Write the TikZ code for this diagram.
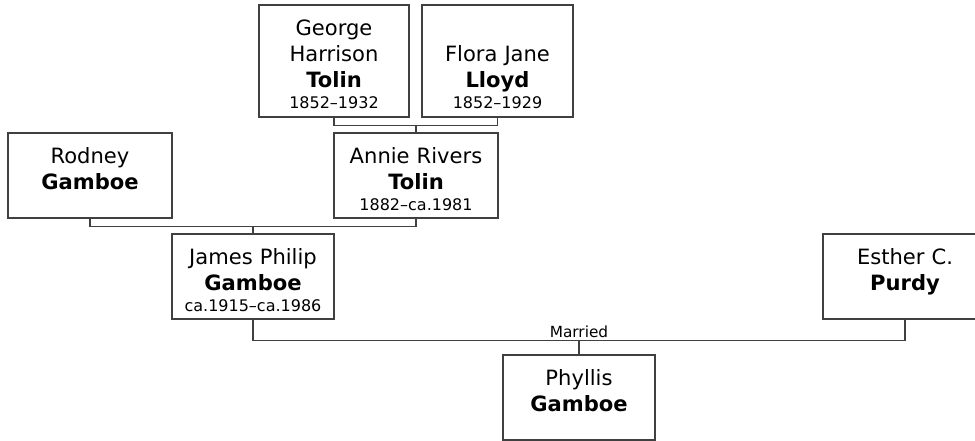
\documentclass[tikz,border=0pt]{standalone}
\usepackage{fontspec}
\setmainfont{DejaVu Sans}
\newcommand{\yrs}[1]{\\[-4pt]{\fontsize{12}{14}\selectfont #1}}
\begin{document}
\begin{tikzpicture}[x=0.75pt, y=-0.75pt,
  every node/.style={font=\fontsize{15.8}{19.5}\selectfont},
  person/.style={draw=black!75, line width=1.1pt, fill=white, align=center, inner xsep=0pt, inner ysep=7pt, text height=16pt},
  tall/.style={person, text depth=54pt},
  short/.style={person, text depth=33.75pt},
  link/.style={draw=black!75, line width=1.1pt}]
\useasboundingbox (0,0) rectangle (975,441);
% grandparents
\node[tall, text width=112.5pt] (george) at (334,61) {George\\Harrison\\\textbf{Tolin}\yrs{1852–1932}};
\node[tall, text width=113.25pt, text height=35.5pt, text depth=34.5pt] (flora) at (497.5,61) {Flora Jane\\\textbf{Lloyd}\yrs{1852–1929}};
% parents
\node[short, text width=123pt] (rodney) at (90,175.5) {Rodney\\\textbf{Gamboe}};
\node[short, text width=123pt] (annie) at (416,175.5) {Annie Rivers\\\textbf{Tolin}\yrs{1882–ca.1981}};
\node[short, text width=121.5pt] (james) at (253,276.5) {James Philip\\\textbf{Gamboe}\yrs{ca.1915–ca.1986}};
\node[short, text width=123pt] (esther) at (905,276.5) {Esther C.\\\textbf{Purdy}};
\node[short, text width=114pt] (phyllis) at (579,397.5) {Phyllis\\\textbf{Gamboe}};
% family lines
\draw[link] (george.south) -- ++(0,8) coordinate (tolinbar) -| (flora.south);
\draw[link] (annie.north) -- (annie.north |- tolinbar);
\draw[link] (rodney.south) -- ++(0,8) coordinate (gamboebar) -| (annie.south);
\draw[link] (james.north) -- (james.north |- gamboebar);
\draw[link] (james.south) -- ++(0,21) coordinate (weddingbar) -- (weddingbar -| esther.south)
  node[midway, above, inner sep=2pt, font=\fontsize{11.5}{13}\selectfont] {Married} -- (esther.south);
\draw[link] (phyllis.north) -- (phyllis.north |- weddingbar);
\end{tikzpicture}
\end{document}
